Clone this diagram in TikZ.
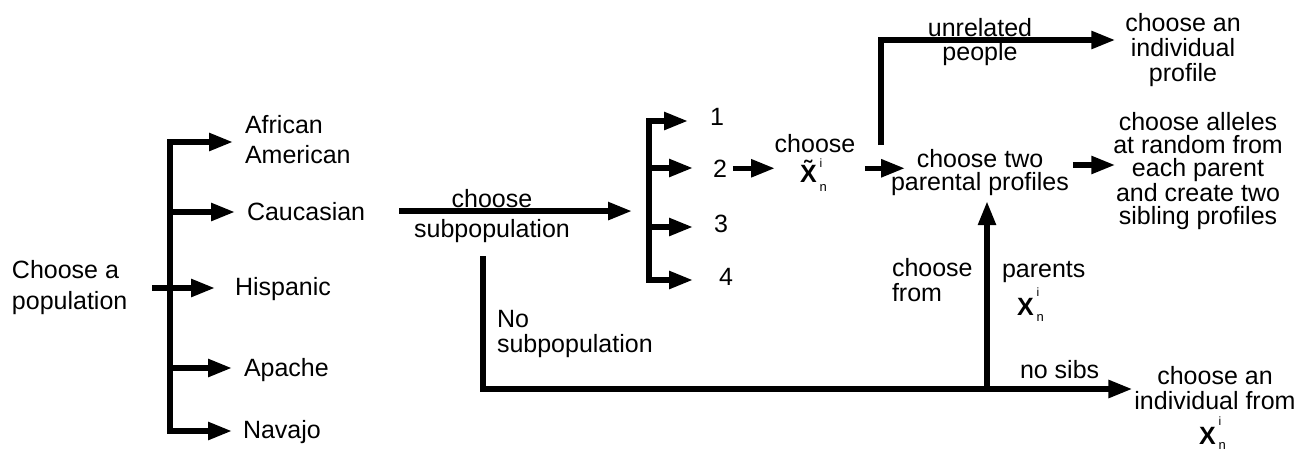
\documentclass[tikz,border=0pt]{standalone}
\usepackage{fontspec}
\setmainfont{Liberation Sans}
\usetikzlibrary{arrows.meta}
\newcommand{\fs}[1]{\fontsize{25}{#1}\selectfont}
\newcommand{\mysupsub}[2]{\hspace{3pt}\rlap{\raisebox{#1}{\fontsize{12}{12}\selectfont i}}\raisebox{#2}{\fontsize{13}{13}\selectfont n}}
\begin{document}
\begin{tikzpicture}[x=1pt,y=-1pt,
  every node/.style={inner sep=0pt,outer sep=0pt},
  font=\fs{24},
  arr/.style={line width=5.5pt,-{Triangle[length=24pt,width=17pt]}},
  bar/.style={line width=6pt,line cap=rect}]
\useasboundingbox (0,0) rectangle (1298,455);

% left part
\node[anchor=west, align=left, font=\fs{31}] (pop) at (12,288) {Choose a\\population};
\node[anchor=west, align=left, font=\fs{30}] (afr) at (245,140) {African\\American};
\node[anchor=base west] (cauc) at (247,220) {Caucasian};
\node[anchor=base west] (hisp) at (235,295) {Hispanic};
\node[anchor=base west] (apa) at (244,376) {Apache};
\node[anchor=base west] (nav) at (243,438) {Navajo};
\coordinate (j1) at (170,142);
\coordinate (j2) at (170,212);
\coordinate (j4) at (170,368);
\coordinate (j5) at (170,431);
\draw[bar] (j1) -- (j5);
\draw[arr, shorten <=25pt, shorten >=20pt] (pop.east) -- (pop.east -| hisp.west);
\draw[arr, shorten >=12pt] (j1) -- (j1 -| afr.west);
\draw[arr, shorten >=12pt] (j2) -- (j2 -| cauc.west);
\draw[arr, shorten >=12pt] (j4) -- (j4 -| apa.west);
\draw[arr, shorten >=11pt] (j5) -- (j5 -| nav.west);

% subpopulation
\node[anchor=base] (lch) at (492,207) {choose};
\node[anchor=base] (lsub) at (492,237) {subpopulation};
\coordinate (s1) at (649,121);
\coordinate (s2) at (649,168);
\coordinate (s3) at (649,227);
\coordinate (s4) at (649,280);
\draw[arr, shorten <=34pt, shorten >=17pt] (cauc.east) -- (cauc.east -| s1);
\node[anchor=base west] (n1) at (710,125) {1};
\node[anchor=base west] (n2) at (713,177) {2};
\node[anchor=base west] (n3) at (714,232) {3};
\node[anchor=base west] (n4) at (719,285) {4};
\draw[bar] (s1) -- (s4);
\draw[arr, shorten >=22pt] (s1) -- (s1 -| n1.west);
\draw[arr, shorten >=20pt] (s2) -- (s2 -| n2.west);
\draw[arr, shorten >=21pt] (s3) -- (s3 -| n3.west);
\draw[arr, shorten >=26pt] (s4) -- (s4 -| n4.west);

% choose X tilde
\node[anchor=base] (xc) at (815,152) {choose};
\node[anchor=base west] (xt) at (800,182) {\textbf{\~{X}}\mysupsub{15pt}{-9pt}};
\draw[arr, shorten <=6pt, shorten >=25pt] (n2.east) -- (n2.east -| xt.west);

% two parental profiles
\node[align=center, font=\fs{23}] (twopar) at (980,173) {choose two\\parental profiles};
\draw[arr, shorten <=38pt, shorten >=-14pt] (xt.east |- n2.east) -- (n2.east -| twopar.west);

% unrelated people
\coordinate (ust) at (881,145);
\node[align=center, font=\fs{24}] (unrel) at (980,42) {unrelated\\people};
\node[align=center, font=\fs{25}] (indiv) at (1183,50) {choose an\\individual\\profile};
\draw[arr, shorten >=10pt] (ust) |- ([yshift=10pt]indiv.west);

% alleles
\node[align=center, font=\fs{23}] (all) at (1198,171) {choose alleles\\at random from\\each parent\\and create two\\sibling profiles};
\draw[arr, shorten <=4pt, shorten >=-2pt] ([yshift=8pt]twopar.east) -- ([yshift=8pt]twopar.east -| all.west);

% no subpopulation
\coordinate (nst) at (483,256);
\node[anchor=west, align=left, font=\fs{25}] (nosub) at (497,334) {No\\subpopulation};
\node[align=center, font=\fs{25}] (indf) at (1215,388) {choose an\\individual from};
\node[anchor=base west] (xb) at (1199,444) {\textbf{X}\mysupsub{19pt}{-5pt}};
\draw[arr, shorten >=2pt] (nst) |- ([yshift=-1pt]indf.west);
\coordinate (bj) at ([xshift=7pt]twopar.south |- nst |- 0,389);
\draw[arr, shorten >=5pt] (bj) -- ([xshift=7pt]twopar.south);

% labels near the up arrow
\node[anchor=west, align=left, font=\fs{25}] (cfrom) at (892,280.5) {choose\\from};
\node[anchor=base west] (par) at (1002,277) {parents};
\node[anchor=base west] (xp) at (1017,315) {\textbf{X}\mysupsub{19pt}{-6pt}};
\node[anchor=base west] (nsib) at (1020,378) {no sibs};
\end{tikzpicture}
\end{document}
